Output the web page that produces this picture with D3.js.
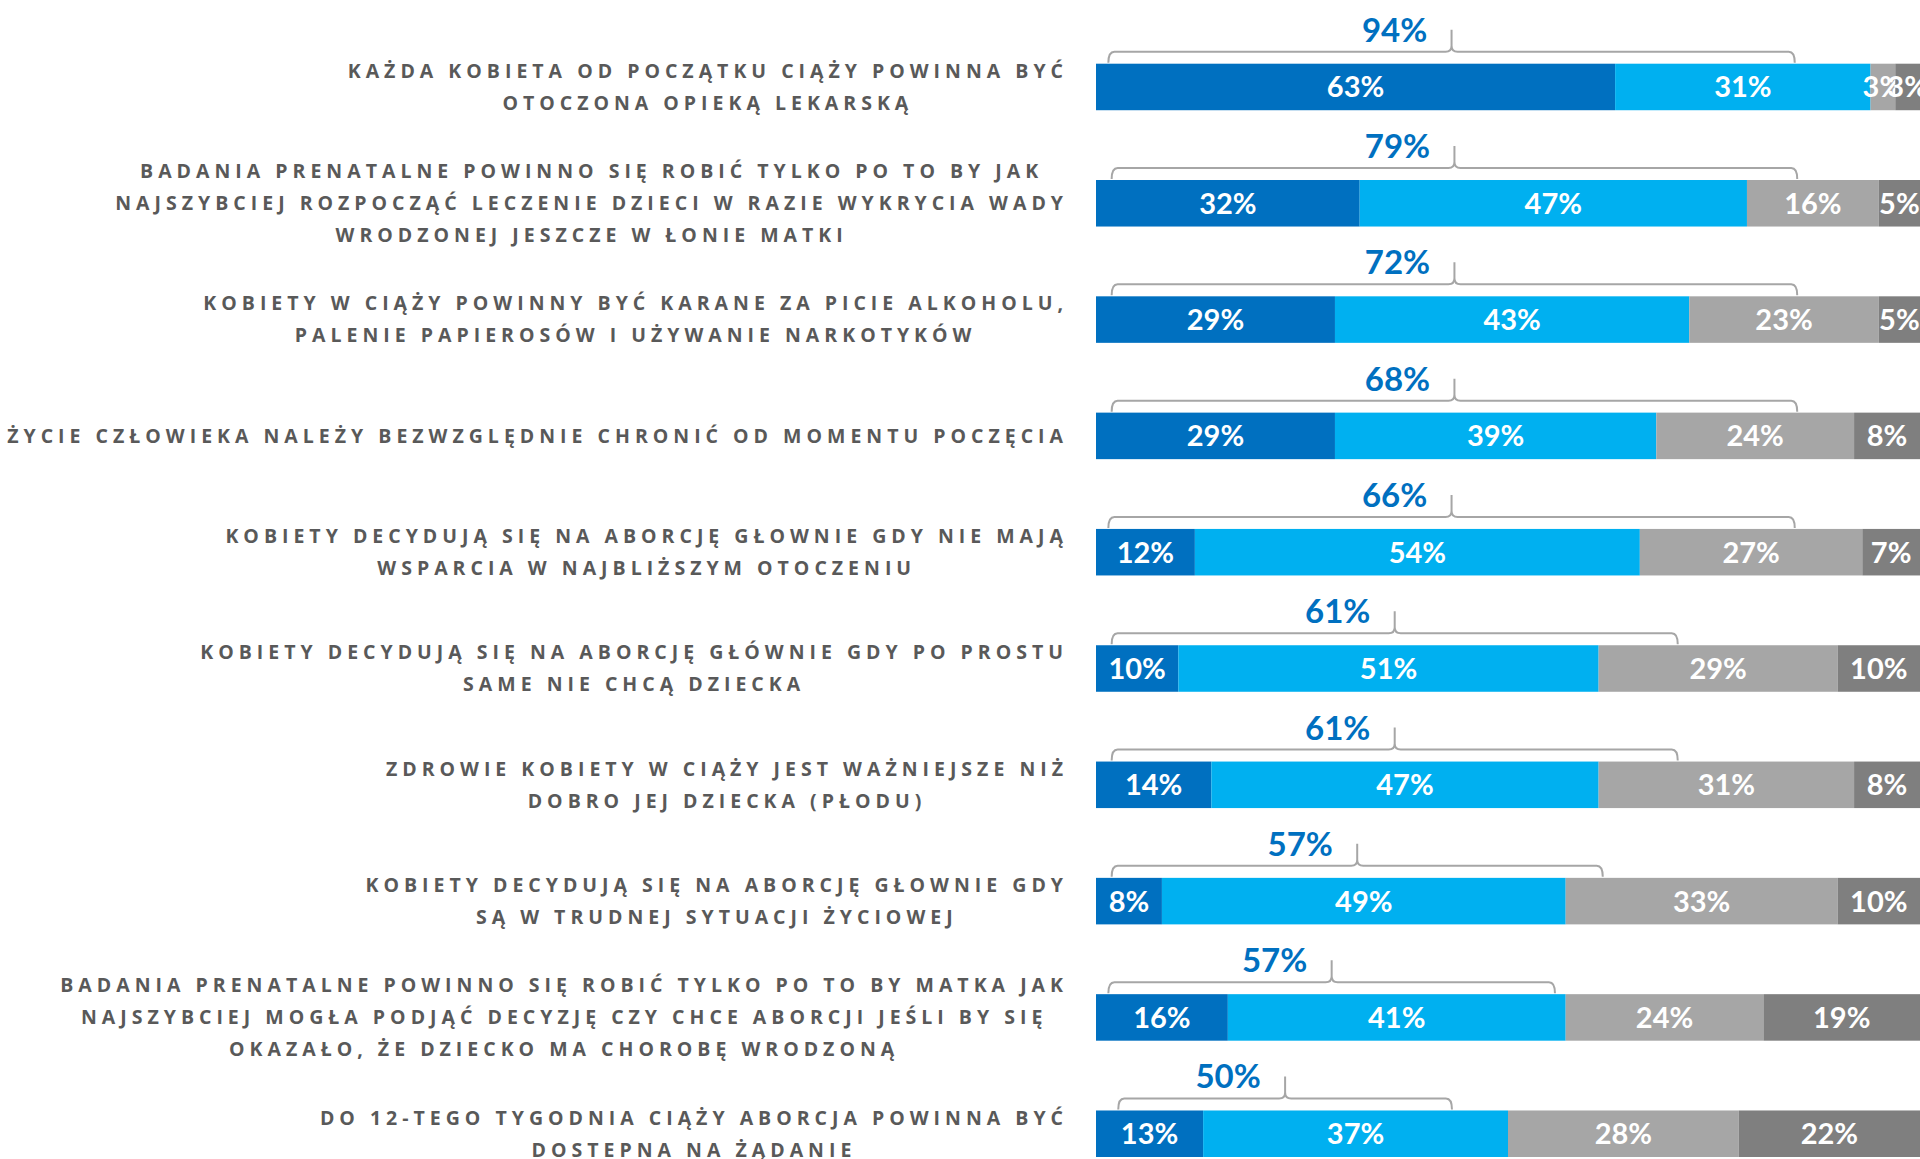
<!DOCTYPE html>
<html>
<head>
<meta charset="utf-8">
<script src="https://cdn.jsdelivr.net/npm/d3@7"></script>
<style>
  body { margin: 0; background: #fff; }
  .cat { font-family: "Open Sans", sans-serif; font-weight: 700; font-size: 19.5px; letter-spacing: 5px; fill: #595959; }
  .val { font-family: Lato, sans-serif; font-weight: 700; font-size: 29px; fill: #fff; }
  .tot { font-family: Lato, sans-serif; font-weight: 700; font-size: 33px; fill: #0070c0; }
</style>
</head>
<body>
<div id="chart"></div>
<script>
const categories = [
  ["KAŻDA KOBIETA OD POCZĄTKU CIĄŻY POWINNA BYĆ", "OTOCZONA OPIEKĄ LEKARSKĄ"],
  ["BADANIA PRENATALNE POWINNO SIĘ ROBIĆ TYLKO PO TO BY JAK", "NAJSZYBCIEJ ROZPOCZĄĆ LECZENIE DZIECI W RAZIE WYKRYCIA WADY", "WRODZONEJ JESZCZE W ŁONIE MATKI"],
  ["KOBIETY W CIĄŻY POWINNY BYĆ KARANE ZA PICIE ALKOHOLU,", "PALENIE PAPIEROSÓW I UŻYWANIE NARKOTYKÓW"],
  ["ŻYCIE CZŁOWIEKA NALEŻY BEZWZGLĘDNIE CHRONIĆ OD MOMENTU POCZĘCIA"],
  ["KOBIETY DECYDUJĄ SIĘ NA ABORCJĘ GŁOWNIE GDY NIE MAJĄ", "WSPARCIA W NAJBLIŻSZYM OTOCZENIU"],
  ["KOBIETY DECYDUJĄ SIĘ NA ABORCJĘ GŁÓWNIE GDY PO PROSTU", "SAME NIE CHCĄ DZIECKA"],
  ["ZDROWIE KOBIETY W CIĄŻY JEST WAŻNIEJSZE NIŻ", "DOBRO JEJ DZIECKA (PŁODU)"],
  ["KOBIETY DECYDUJĄ SIĘ NA ABORCJĘ GŁOWNIE GDY", "SĄ W TRUDNEJ SYTUACJI ŻYCIOWEJ"],
  ["BADANIA PRENATALNE POWINNO SIĘ ROBIĆ TYLKO PO TO BY MATKA JAK", "NAJSZYBCIEJ MOGŁA PODJĄĆ DECYZJĘ CZY CHCE ABORCJI JEŚLI BY SIĘ", "OKAZAŁO, ŻE DZIECKO MA CHOROBĘ WRODZONĄ"],
  ["DO 12-TEGO TYGODNIA CIĄŻY ABORCJA POWINNA BYĆ", "DOSTEPNA NA ŻĄDANIE"],
]

const seriesKeys = ["zdecydowanie tak", "raczej tak", "raczej nie", "zdecydowanie nie"]
const strongYes = [63, 32, 29, 29, 12, 10, 14, 8, 16, 13]
const ratherYes = [31, 47, 43, 39, 54, 51, 47, 49, 41, 37]
const ratherNo = [3, 16, 23, 24, 27, 29, 31, 33, 24, 28]
const strongNo = [3, 5, 5, 8, 7, 10, 8, 10, 19, 22]
const totals = [94, 79, 72, 68, 66, 61, 61, 57, 57, 50]

// bracket ends over each bar, in % of the bar scale
const bracketStart = [1.5, 1.9, 1.9, 1.9, 1.5, 1.9, 1.9, 1.9, 1.5, 2.7]
const bracketEnd = [84.8, 85.1, 85.1, 85.1, 84.8, 70.6, 70.6, 61.5, 55.7, 43.2]

const colors = ["#0070c0", "#00b0f0", "#a6a6a6", "#7f7f7f"]

const dimensions = {
  width: 1920,
  height: 1159,
  barLeft: 1096,
  barRight: 1920,
  top: 63.7,
  bottom: 1157,
  labelRight: 1068,
  lineHeight: 32,
}

const table = categories.map((c, i) => ({
  idx: i,
  [seriesKeys[0]]: strongYes[i],
  [seriesKeys[1]]: ratherYes[i],
  [seriesKeys[2]]: ratherNo[i],
  [seriesKeys[3]]: strongNo[i],
}))

const stacked = d3.stack().keys(seriesKeys)(table)

const xScale = d3.scaleLinear().domain([0, 100]).range([dimensions.barLeft, dimensions.barRight])

const yScale = d3
  .scaleBand()
  .domain(d3.range(categories.length))
  .range([dimensions.top, dimensions.bottom])
  .paddingInner(0.6)
  .paddingOuter(0)

const color = d3.scaleOrdinal().domain(seriesKeys).range(colors)

const svg = d3
  .select("#chart")
  .append("svg")
  .attr("width", dimensions.width)
  .attr("height", dimensions.height)

// bars
const layers = svg
  .append("g")
  .selectAll("g")
  .data(stacked)
  .join("g")
  .attr("fill", d => color(d.key))

layers
  .selectAll("rect")
  .data(d => d)
  .join("rect")
  .attr("x", d => xScale(d[0]))
  .attr("y", d => yScale(d.data.idx))
  .attr("width", d => xScale(d[1]) - xScale(d[0]))
  .attr("height", yScale.bandwidth())

layers
  .selectAll("text")
  .data(d => d)
  .join("text")
  .classed("val", true)
  .attr("x", d => (xScale(d[0]) + xScale(d[1])) / 2)
  .attr("y", d => yScale(d.data.idx) + yScale.bandwidth() / 2 + 10.5)
  .attr("text-anchor", "middle")
  .text(d => d[1] - d[0] + "%")

// brackets + totals
const bracketPath = i => {
  const x0 = xScale(bracketStart[i])
  const x1 = xScale(bracketEnd[i])
  const top = yScale(i)
  const yl = top - 12
  const yt = top - 34
  const r = 6
  const mid = (x0 + x1) / 2
  const p = d3.path()
  p.moveTo(x0, top - 1)
  p.quadraticCurveTo(x0, yl, x0 + r, yl)
  p.lineTo(mid - r, yl)
  p.quadraticCurveTo(mid, yl, mid, yl - r)
  p.lineTo(mid, yt)
  p.moveTo(mid, yl - r)
  p.quadraticCurveTo(mid, yl, mid + r, yl)
  p.lineTo(x1 - r, yl)
  p.quadraticCurveTo(x1, yl, x1, top - 1)
  return p.toString()
}

const brackets = svg.append("g")

brackets
  .selectAll("path")
  .data(totals)
  .join("path")
  .attr("d", (d, i) => bracketPath(i))
  .attr("fill", "none")
  .attr("stroke", "#a6a6a6")
  .attr("stroke-width", 2)

brackets
  .selectAll("text")
  .data(totals)
  .join("text")
  .classed("tot", true)
  .attr("x", (d, i) => (xScale(bracketStart[i]) + xScale(bracketEnd[i])) / 2 - 57)
  .attr("y", (d, i) => yScale(i) - 22)
  .attr("text-anchor", "middle")
  .text(d => d + "%")

// category labels: lines centred within a block that is right aligned
const labels = svg
  .append("g")
  .selectAll("text")
  .data(categories)
  .join("text")
  .classed("cat", true)
  .attr("text-anchor", "middle")

labels
  .selectAll("tspan")
  .data((d, i) => d.map((line, j) => ({ line, j, n: d.length, i })))
  .join("tspan")
  .attr("y", d => yScale(d.i) + yScale.bandwidth() / 2 + (d.j - (d.n - 1) / 2) * dimensions.lineHeight + 6.8)
  .text(d => d.line)

labels.each(function () {
  const spans = d3.select(this).selectAll("tspan").nodes()
  const maxW = d3.max(spans, s => s.getComputedTextLength())
  d3.select(this).selectAll("tspan").attr("x", dimensions.labelRight - maxW / 2)
})
</script>
</body>
</html>
